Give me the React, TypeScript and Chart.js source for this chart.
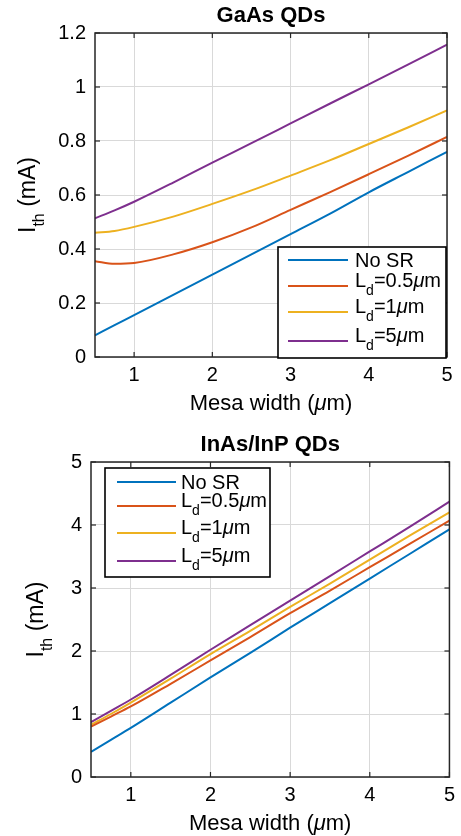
import React, { useEffect, useRef } from "react";
import { Chart, registerables } from "chart.js";

Chart.register(...registerables);

// ---------- data ----------
const mesaWidth = [0.5, 0.75, 1, 1.5, 2, 2.5, 3, 3.5, 4, 4.5, 5];

const gaasNoSR = [0.08, 0.118, 0.155, 0.23, 0.305, 0.38, 0.455, 0.53, 0.61, 0.685, 0.76];
const gaasLd05 = [0.355, 0.345, 0.348, 0.38, 0.425, 0.48, 0.545, 0.61, 0.677, 0.745, 0.815];
const gaasLd1 = [0.46, 0.467, 0.482, 0.52, 0.567, 0.617, 0.672, 0.728, 0.789, 0.85, 0.913];
const gaasLd5 = [0.514, 0.543, 0.575, 0.646, 0.72, 0.792, 0.865, 0.938, 1.01, 1.083, 1.157];

const inasNoSR = [0.4, 0.59, 0.78, 1.18, 1.58, 1.97, 2.37, 2.76, 3.15, 3.54, 3.93];
const inasLd05 = [0.8, 0.96, 1.12, 1.48, 1.85, 2.22, 2.6, 2.96, 3.33, 3.7, 4.07];
const inasLd1 = [0.83, 1.0, 1.18, 1.56, 1.95, 2.32, 2.7, 3.07, 3.45, 3.83, 4.2];
const inasLd5 = [0.87, 1.05, 1.23, 1.62, 2.02, 2.41, 2.8, 3.19, 3.58, 3.97, 4.37];

const seriesColors = ["#0072BD", "#D95319", "#EDB120", "#7E2F8E"];

const xTickValues = [1, 2, 3, 4, 5];
const xTickLabels = ["1", "2", "3", "4", "5"];
const gaasYTickValues = [0, 0.2, 0.4, 0.6, 0.8, 1, 1.2];
const gaasYTickLabels = ["0", "0.2", "0.4", "0.6", "0.8", "1", "1.2"];
const inasYTickValues = [0, 1, 2, 3, 4, 5];
const inasYTickLabels = ["0", "1", "2", "3", "4", "5"];

type Seg = { t: string; sub?: boolean; it?: boolean };

const legendLabels: Seg[][] = [
  [{ t: "No SR" }],
  [{ t: "L" }, { t: "d", sub: true }, { t: "=0.5" }, { t: "μ", it: true }, { t: "m" }],
  [{ t: "L" }, { t: "d", sub: true }, { t: "=1" }, { t: "μ", it: true }, { t: "m" }],
  [{ t: "L" }, { t: "d", sub: true }, { t: "=5" }, { t: "μ", it: true }, { t: "m" }],
];
const xAxisTitle: Seg[] = [{ t: "Mesa width (" }, { t: "μ", it: true }, { t: "m)" }];
const yAxisTitle: Seg[] = [{ t: "I" }, { t: "th", sub: true }, { t: " (mA)" }];
const gaasTitle: Seg[] = [{ t: "GaAs QDs" }];
const inasTitle: Seg[] = [{ t: "InAs/InP QDs" }];

const FAMILY = "'Liberation Sans', Arial, Helvetica, sans-serif";

function drawRich(
  ctx: CanvasRenderingContext2D,
  segs: Seg[],
  x: number,
  y: number,
  size: number,
  align: "left" | "center",
  bold = false
) {
  const fontFor = (s: Seg) =>
    `${s.it ? "italic " : ""}${bold ? "bold " : ""}${s.sub ? Math.round(size * 0.7) : size}px ${FAMILY}`;
  let total = 0;
  for (const s of segs) {
    ctx.font = fontFor(s);
    total += ctx.measureText(s.t).width;
  }
  let cx = align === "center" ? x - total / 2 : x;
  ctx.textAlign = "left";
  ctx.textBaseline = "alphabetic";
  for (const s of segs) {
    ctx.font = fontFor(s);
    ctx.fillText(s.t, cx, y + (s.sub ? size * 0.4 : 0));
    cx += ctx.measureText(s.t).width;
  }
}

const decorPlugin = {
  id: "decor",
  afterDatasetsDraw(chart: any, _args: any, opts: any) {
    const { ctx, chartArea: a } = chart;
    const xs = chart.scales.x;
    const ys = chart.scales.y;
    ctx.save();
    // frame
    ctx.strokeStyle = "#262626";
    ctx.lineWidth = 1.5;
    ctx.strokeRect(a.left, a.top, a.right - a.left, a.bottom - a.top);
    // inward ticks
    ctx.lineWidth = 1.2;
    const seg = (x1: number, y1: number, x2: number, y2: number) => {
      ctx.beginPath();
      ctx.moveTo(x1, y1);
      ctx.lineTo(x2, y2);
      ctx.stroke();
    };
    xs.ticks.forEach((t: any) => {
      const px = xs.getPixelForValue(t.value);
      seg(px, a.bottom, px, a.bottom - 5);
      seg(px, a.top, px, a.top + 5);
    });
    ys.ticks.forEach((t: any) => {
      const py = ys.getPixelForValue(t.value);
      seg(a.left, py, a.left + 5, py);
      seg(a.right, py, a.right - 5, py);
    });
    ctx.fillStyle = "#000";
    const cxm = (a.left + a.right) / 2;
    // title
    drawRich(ctx, opts.title, cxm, a.top - 11, 22, "center", true);
    // x title
    drawRich(ctx, xAxisTitle, cxm, a.bottom + 53, 22, "center");
    // y title (rotated)
    ctx.save();
    ctx.translate(opts.yTitleX, (a.top + a.bottom) / 2);
    ctx.rotate(-Math.PI / 2);
    drawRich(ctx, yAxisTitle, 0, 0, 23, "center");
    ctx.restore();
    // legend
    const L = opts.legend;
    const bx = L.anchor === "br" ? a.right - 1 - L.w : a.left + L.dx;
    const by = L.anchor === "br" ? a.bottom + 1 - L.h : a.top + L.dy;
    ctx.fillStyle = "#fff";
    ctx.fillRect(bx, by, L.w, L.h);
    ctx.strokeStyle = "#000";
    ctx.lineWidth = 1.6;
    ctx.strokeRect(bx, by, L.w, L.h);
    const datasets = chart.data.datasets;
    legendLabels.forEach((lab, i) => {
      const ly = by + L.rows[i];
      ctx.strokeStyle = datasets[i].borderColor;
      ctx.lineWidth = 2;
      seg(bx + L.lineX0, ly, bx + L.lineX1, ly);
      ctx.fillStyle = "#000";
      const hasSub = lab.some((s) => s.sub);
      drawRich(ctx, lab, bx + L.textX, ly + (hasSub ? 1 : 7), 20, "left");
    });
    ctx.restore();
  },
};

function makeDatasets(series: number[][]) {
  return series.map((vals, i) => ({
    label: String(i),
    data: mesaWidth.map((x, j) => ({ x, y: vals[j] })),
    borderColor: seriesColors[i],
    backgroundColor: seriesColors[i],
    borderWidth: 2,
    pointRadius: 0,
    fill: false,
    cubicInterpolationMode: "monotone" as const,
  }));
}

function buildConfig(p: {
  series: number[][];
  yMax: number;
  yTicks: number[];
  yTickLabels: string[];
  padTop: number;
  padRight: number;
  yWidth: number;
  xHeight: number;
  title: Seg[];
  yTitleX: number;
  legend: any;
}): any {
  const tickFont = { family: FAMILY, size: 20 };
  return {
    type: "line",
    data: { datasets: makeDatasets(p.series) },
    plugins: [decorPlugin],
    options: {
      animation: false,
      responsive: false,
      maintainAspectRatio: false,
      layout: { padding: { top: p.padTop, right: p.padRight, left: 0, bottom: 0 } },
      plugins: {
        legend: { display: false },
        tooltip: { enabled: false },
        title: { display: false },
        decor: { title: p.title, yTitleX: p.yTitleX, legend: p.legend },
      },
      scales: {
        x: {
          type: "linear",
          min: 0.5,
          max: 5,
          afterBuildTicks: (s: any) => {
            s.ticks = xTickValues.map((v) => ({ value: v }));
          },
          afterFit: (s: any) => {
            s.height = p.xHeight;
          },
          ticks: {
            autoSkip: false,
            maxRotation: 0,
            padding: 6,
            color: "#000",
            font: tickFont,
            callback: (_v: any, i: number) => xTickLabels[i],
          },
          grid: { color: "#d9d9d9", lineWidth: 1, drawTicks: false },
          border: { display: false },
        },
        y: {
          type: "linear",
          min: 0,
          max: p.yMax,
          afterBuildTicks: (s: any) => {
            s.ticks = p.yTicks.map((v) => ({ value: v }));
          },
          afterFit: (s: any) => {
            s.width = p.yWidth;
          },
          ticks: {
            autoSkip: false,
            padding: 9,
            color: "#000",
            font: tickFont,
            callback: (_v: any, i: number) => p.yTickLabels[i],
          },
          grid: { color: "#d9d9d9", lineWidth: 1, drawTicks: false },
          border: { display: false },
        },
      },
    },
  };
}

function ChartCanvas({ config, top }: { config: any; top: number }) {
  const ref = useRef<HTMLCanvasElement | null>(null);
  useEffect(() => {
    if (!ref.current) return;
    const chart = new Chart(ref.current, config);
    return () => chart.destroy();
  }, [config]);
  return (
    <canvas
      ref={ref}
      width={461}
      height={418}
      style={{ position: "absolute", left: 0, top, width: 461, height: 418, display: "block" }}
    />
  );
}

const gaasConfig = buildConfig({
  series: [gaasNoSR, gaasLd05, gaasLd1, gaasLd5],
  yMax: 1.2,
  yTicks: gaasYTickValues,
  yTickLabels: gaasYTickLabels,
  padTop: 33,
  padRight: 14,
  yWidth: 95,
  xHeight: 61,
  title: gaasTitle,
  yTitleX: 35,
  legend: { anchor: "br", w: 168, h: 111, rows: [13, 39, 65, 94], lineX0: 10, lineX1: 70, textX: 77 },
});

const inasConfig = buildConfig({
  series: [inasNoSR, inasLd05, inasLd1, inasLd5],
  yMax: 5,
  yTicks: inasYTickValues,
  yTickLabels: inasYTickLabels,
  padTop: 44,
  padRight: 9,
  yWidth: 91,
  xHeight: 59,
  title: inasTitle,
  yTitleX: 43,
  legend: { anchor: "tl", dx: 14, dy: 6, w: 165, h: 109, rows: [14, 38, 65, 93], lineX0: 12, lineX1: 71, textX: 76 },
});

export default function App() {
  return (
    <div style={{ position: "absolute", left: 0, top: 0, width: 461, height: 836, background: "#fff" }}>
      <ChartCanvas config={gaasConfig} top={0} />
      <ChartCanvas config={inasConfig} top={418} />
    </div>
  );
}
